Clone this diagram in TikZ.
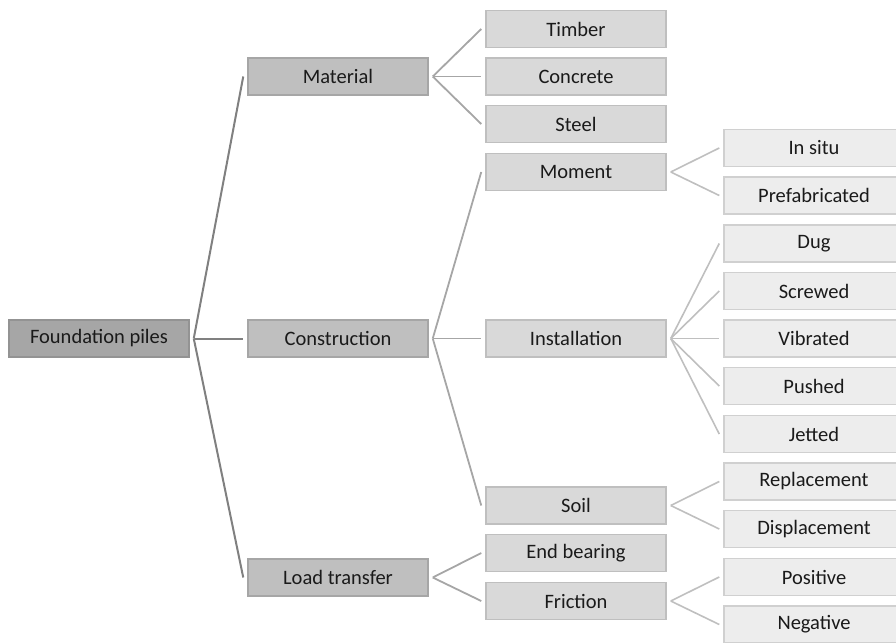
\documentclass[tikz,border=0pt]{standalone}
\usepackage{fontspec}
\setmainfont{Carlito}
\usetikzlibrary{calc}
\definecolor{txt}{HTML}{1A1A1A}
\tikzset{
  box/.style={draw, line width=1.5pt, minimum width=180pt, minimum height=37pt,
    inner sep=0pt, text=txt, font=\fontsize{20.5}{24}\selectfont},
  lvlzero/.style={box, fill=gray!70!white, draw=gray!85!white},
  lvlone/.style={box, fill={rgb,255:red,191;green,191;blue,191}, draw={rgb,255:red,166;green,166;blue,166}},
  lvltwo/.style={box, fill={rgb,255:red,217;green,217;blue,217}, draw={rgb,255:red,191;green,191;blue,191}},
  lvlthree/.style={box, fill={rgb,255:red,237;green,237;blue,237}, draw={rgb,255:red,208;green,208;blue,208}},
  linkzero/.style={draw={rgb,255:red,128;green,128;blue,128}, line width=2pt},
  linkone/.style={draw={rgb,255:red,166;green,166;blue,166}, line width=1.8pt},
  linktwo/.style={draw={rgb,255:red,191;green,191;blue,191}, line width=1.6pt},
}
% fan of straight links from one parent to its children
\newcommand{\fanlinks}[3]{%
  \foreach \c in {#2}{\draw[#3] ($(#1.east)+(4,0)$) -- ($(\c.west)+(-4,0)$);}}
\begin{document}
\begin{tikzpicture}[x=1pt,y=-1pt]
\useasboundingbox (0,0) rectangle (896,642);
\clip (0,0) rectangle (896,642);

% root
\node[lvlzero] (root) at (99,338.5) {Foundation piles};

% first level
\node[lvlone] (mat) at (338,76.5) {Material};
\node[lvlone] (con) at (338,338.5) {Construction};
\node[lvlone] (load) at (338,577.5) {Load transfer};

% second level
\node[lvltwo] (tim) at (576,29) {Timber};
\node[lvltwo] (conc) at (576,76.5) {Concrete};
\node[lvltwo] (ste) at (576,124) {Steel};
\node[lvltwo] (mom) at (576,172) {Moment};
\node[lvltwo] (ins) at (576,338.5) {Installation};
\node[lvltwo] (soil) at (576,505.5) {Soil};
\node[lvltwo] (endb) at (576,553) {End bearing};
\node[lvltwo] (fric) at (576,601) {Friction};

% third level
\node[lvlthree] (situ) at (814,148) {In situ};
\node[lvlthree] (pref) at (814,195.5) {Prefabricated};
\node[lvlthree] (dug) at (814,243.5) {Dug};
\node[lvlthree] (scr) at (814,291) {Screwed};
\node[lvlthree] (vib) at (814,338.5) {Vibrated};
\node[lvlthree] (push) at (814,386) {Pushed};
\node[lvlthree] (jet) at (814,434) {Jetted};
\node[lvlthree] (repl) at (814,481.5) {Replacement};
\node[lvlthree] (disp) at (814,529) {Displacement};
\node[lvlthree] (pos) at (814,577) {Positive};
\node[lvlthree] (neg) at (814,624.5) {Negative};

% links
\fanlinks{root}{mat,con,load}{linkzero}
\fanlinks{mat}{tim,conc,ste}{linkone}
\fanlinks{con}{mom,ins,soil}{linkone}
\fanlinks{load}{endb,fric}{linkone}
\fanlinks{mom}{situ,pref}{linktwo}
\fanlinks{ins}{dug,scr,vib,push,jet}{linktwo}
\fanlinks{soil}{repl,disp}{linktwo}
\fanlinks{fric}{pos,neg}{linktwo}
\end{tikzpicture}
\end{document}
